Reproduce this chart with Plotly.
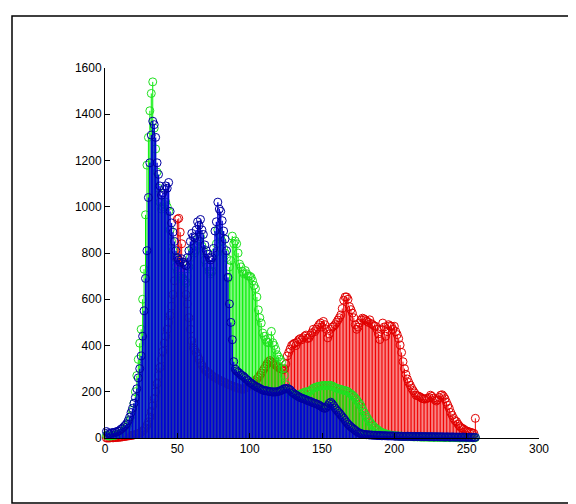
import plotly.graph_objects as go

# Histogram counts per intensity bin (bins 1..256)
red_counts = [
    0, 0, 0, 1, 1, 1, 2, 2, 3, 3,
    4, 5, 6, 7, 8, 9, 10, 11, 12, 13,
    15, 17, 19, 22, 25, 30, 36, 44, 55, 70,
    90, 115, 140, 170, 200, 235, 270, 305, 340, 375,
    410, 440, 470, 500, 530, 570, 620, 680, 780, 946,
    950, 890, 840, 760, 680, 620, 580, 520, 470, 420,
    390, 380, 370, 355, 340, 325, 315, 305, 295, 290,
    285, 280, 275, 270, 265, 262, 258, 255, 250, 248,
    245, 242, 240, 236, 232, 230, 228, 225, 222, 220,
    218, 216, 214, 212, 210, 212, 215, 218, 222, 226,
    230, 235, 240, 248, 255, 262, 270, 280, 290, 300,
    310, 320, 330, 335, 330, 325, 320, 315, 310, 305,
    300, 298, 296, 298, 320, 355, 370, 385, 400, 405,
    410, 400, 415, 425, 430, 425, 433, 440, 445, 430,
    433, 445, 455, 470, 460, 470, 480, 490, 497, 480,
    504, 490, 470, 433, 450, 470, 480, 483, 490, 500,
    510, 520, 532, 560, 596, 610, 610, 600, 568, 555,
    540, 520, 490, 470, 480, 497, 510, 518, 515, 511,
    505, 500, 511, 495, 490, 485, 483, 470, 450, 426,
    470, 497, 480, 440, 460, 490, 485, 483, 470, 483,
    460, 447, 430, 402, 370, 330, 300, 275, 255, 240,
    228, 215, 205, 195, 185, 183, 180, 177, 172, 170,
    168, 170, 172, 175, 185, 180, 172, 165, 160, 165,
    175, 185, 187, 180, 170, 155, 141, 128, 110, 98,
    85, 75, 71, 60, 52, 45, 42, 38, 33, 30,
    28, 26, 24, 22, 20, 85,
]

green_counts = [
    12, 10, 8, 9, 10, 11, 12, 14, 15, 18,
    20, 24, 30, 38, 48, 60, 75, 95, 120, 150,
    200, 270, 340, 410, 470, 600, 730, 965, 1180, 1300,
    1415, 1490, 1540, 1340, 1250, 1150, 1080, 1020, 990, 1000,
    1010, 1020, 1000, 980, 900, 850, 810, 780, 740, 720,
    700, 690, 700, 690, 680, 670, 700, 740, 780, 820,
    810, 800, 830, 860, 850, 870, 830, 810, 770, 750,
    740, 720, 710, 720, 750, 800, 840, 900, 880, 870,
    850, 820, 800, 780, 690, 740, 767, 873, 840, 852,
    840, 800, 752, 740, 720, 710, 724, 710, 700, 700,
    695, 680, 660, 646, 610, 554, 520, 497, 454, 440,
    426, 415, 412, 430, 461, 412, 400, 383, 360, 350,
    340, 327, 300, 270, 230, 200, 195, 190, 188, 186,
    185, 184, 186, 188, 190, 192, 195, 198, 200, 199,
    199, 205, 210, 215, 218, 220, 222, 224, 225, 226,
    227, 227, 226, 227, 228, 227, 225, 222, 218, 215,
    213, 212, 210, 208, 206, 205, 203, 200, 195, 190,
    185, 180, 172, 165, 156, 148, 138, 125, 112, 100,
    90, 80, 71, 62, 55, 48, 43, 38, 33, 28,
    25, 22, 20, 18, 16, 14, 13, 12, 11, 10,
    9, 9, 8, 8, 8, 7, 7, 7, 6, 6,
    6, 6, 5, 5, 5, 5, 5, 4, 4, 4,
    4, 4, 4, 4, 3, 3, 3, 3, 3, 3,
    3, 3, 2, 2, 2, 2, 2, 2, 2, 2,
    2, 2, 2, 1, 1, 1, 1, 1, 1, 1,
    1, 1, 1, 1, 1, 1,
]

blue_counts = [
    28, 22, 18, 20, 24, 22, 26, 25, 30, 32,
    38, 42, 48, 55, 62, 75, 90, 110, 128, 150,
    175, 213, 260, 300, 355, 440, 550, 690, 810, 1040,
    1190, 1310, 1370, 1355, 1300, 1190, 1140, 1090, 1050, 1060,
    1075, 1090, 1080, 1105, 980, 930, 890, 850, 810, 780,
    770, 760, 775, 760, 750, 745, 780, 810, 850, 885,
    870, 865, 900, 935, 920, 945, 900, 880, 835, 810,
    795, 780, 770, 780, 820, 895, 935, 1020, 990, 980,
    940, 895, 860, 810, 695, 580, 500, 425, 330, 298,
    290, 285, 280, 272, 270, 265, 258, 252, 248, 240,
    238, 232, 228, 224, 220, 218, 214, 210, 208, 205,
    205, 204, 202, 200, 201, 198, 200, 199, 200, 202,
    204, 206, 210, 214, 212, 215, 212, 208, 200, 195,
    190, 186, 182, 178, 175, 172, 170, 168, 165, 162,
    160, 158, 155, 152, 150, 148, 145, 142, 138, 134,
    130, 128, 132, 140, 150, 155, 148, 140, 130, 122,
    115, 108, 100, 92, 85, 76, 68, 60, 54, 48,
    43, 38, 33, 28, 24, 21, 19, 17, 16, 15,
    14, 14, 13, 13, 12, 12, 12, 11, 11, 11,
    10, 10, 10, 10, 9, 9, 9, 9, 9, 8,
    8, 8, 8, 7, 8, 7, 7, 7, 8, 7,
    7, 7, 6, 7, 7, 6, 6, 7, 6, 6,
    6, 6, 6, 5, 6, 6, 5, 5, 6, 5,
    5, 5, 5, 5, 4, 5, 5, 4, 4, 5,
    4, 4, 4, 4, 4, 3, 4, 4, 3, 3,
    3, 3, 3, 3, 2, 3,
]

bins = list(range(1, 257))
x_ticks = [0, 50, 100, 150, 200, 250, 300]
y_ticks = [0, 200, 400, 600, 800, 1000, 1200, 1400, 1600]

# (counts, stem colour, marker colour, stem thickness)
series = [
    (red_counts, "#f00000", "#e00000", 1.0),
    (green_counts, "#00f000", "#20e020", 1.0),
    (blue_counts, "#0000d8", "#0000a0", 1.35),
]

fig = go.Figure()
for counts, stem_color, marker_color, thick in series:
    fig.add_trace(go.Scatter(
        x=bins,
        y=counts,
        mode="markers",
        cliponaxis=False,
        marker=dict(symbol="circle-open", size=8, color=marker_color,
                    line=dict(width=1, color=marker_color)),
        error_y=dict(type="data", symmetric=False, array=[0] * len(counts),
                     arrayminus=counts, width=0, thickness=thick, color=stem_color),
        showlegend=False,
    ))

W, H = 576, 504
L, R, T, B = 97, 45, 60, 74
pw, ph = W - L - R, H - T - B

def px_to_paper_x(px):
    return (px - L) / pw

def px_to_paper_y(py):
    return (H - B - py) / ph

fig.add_shape(type="rect", xref="paper", yref="paper",
              x0=px_to_paper_x(4), x1=px_to_paper_x(570),
              y0=px_to_paper_y(495), y1=px_to_paper_y(8),
              line=dict(color="black", width=1.5), fillcolor="rgba(0,0,0,0)")

axis_common = dict(showgrid=False, zeroline=False, showline=True, linecolor="black",
                   linewidth=1, ticks="inside", ticklen=5, tickcolor="black",
                   tickfont=dict(family="Liberation Sans, Arial", size=12, color="black"))

fig.update_layout(
    width=W, height=H,
    margin=dict(l=L, r=R, t=T, b=B),
    paper_bgcolor="white", plot_bgcolor="white",
    xaxis=dict(range=[0, 300], tickvals=x_ticks, **axis_common),
    yaxis=dict(range=[0, 1600], tickvals=y_ticks, **axis_common),
)

fig.write_html("out.html")
